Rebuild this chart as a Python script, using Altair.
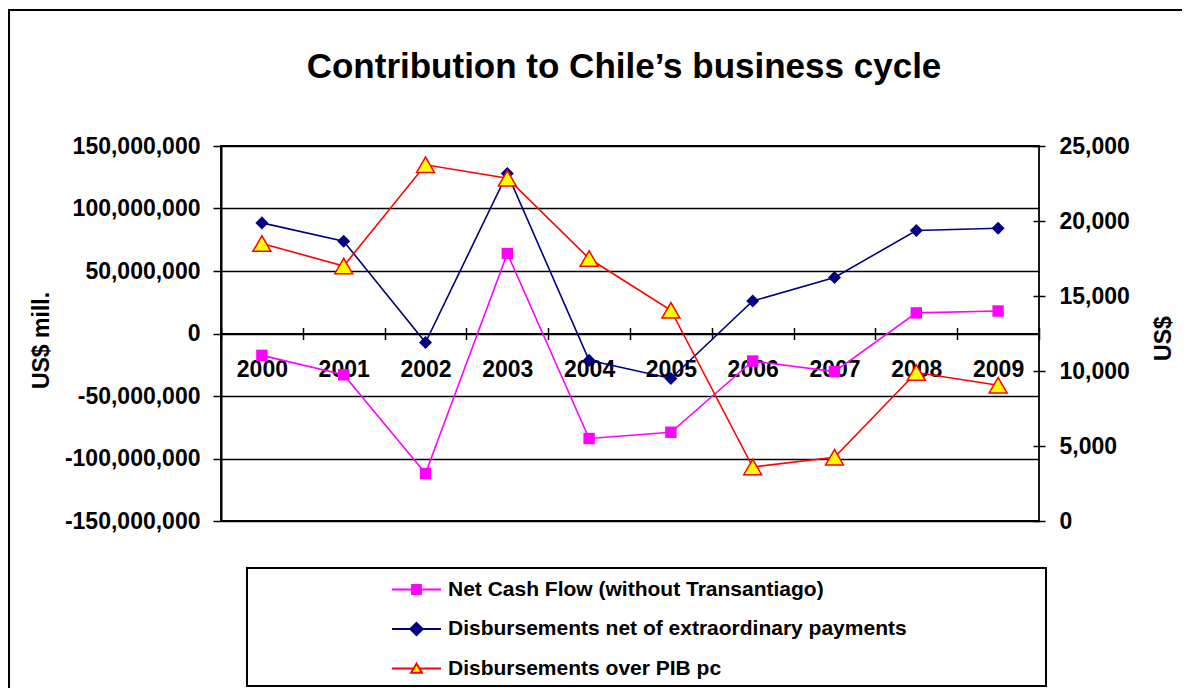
import altair as alt
import pandas as pd

FONT = "Liberation Sans, Arial, Helvetica, sans-serif"

years = ["2000", "2001", "2002", "2003", "2004", "2005", "2006", "2007", "2008", "2009"]
net_cash_flow = [-17.5e6, -33.0e6, -112.0e6, 64.0e6, -84.0e6, -79.0e6, -22.0e6, -30.5e6, 16.5e6, 18.0e6]
disb_net = [88.5e6, 73.8e6, -7.2e6, 128.0e6, -21.5e6, -36.0e6, 26.0e6, 44.8e6, 82.4e6, 84.2e6]
disb_pib = [18500, 17000, 23750, 22850, 17500, 14050, 3600, 4250, 9900, 9050]
series_names = [
    "Net Cash Flow (without Transantiago)",
    "Disbursements net of extraordinary payments",
    "Disbursements over PIB pc",
]
series_stroke = ["#FF00FF", "#000080", "#FF0000"]
series_fill = ["#FF00FF", "#000080", "#FFFF00"]
left_ticks = [-150e6, -100e6, -50e6, 0, 50e6, 100e6, 150e6]
right_ticks = [0, 5000, 10000, 15000, 20000, 25000]

df = pd.DataFrame({"year": years, "ncf": net_cash_flow, "dn": disb_net, "dp": disb_pib})

W, H = 818, 375
LBL = 23

xscale = alt.Scale(type="band", paddingInner=0, paddingOuter=0, domain=years)
ax_bottom = alt.Axis(orient="bottom", offset=-H / 2, title=None, labelAngle=0, tickBand="extent",
                     tickSize=6, tickWidth=1.5, tickColor="black", domainColor="black", domainWidth=2,
                     labelFont=FONT, labelFontSize=LBL, labelFontWeight="bold", labelColor="black",
                     labelPadding=19, grid=False)
ax_top = alt.Axis(orient="top", offset=-H / 2, title=None, labels=False, domain=False, tickBand="extent",
                  tickSize=6, tickWidth=1.5, tickColor="black", grid=False)
x_b = alt.X("year:N", scale=xscale, sort=years, axis=ax_bottom)
x_t = alt.X("year:N", scale=xscale, sort=years, axis=ax_top)

scL = alt.Scale(domain=[-150e6, 150e6], nice=False, zero=False)
axL = alt.Axis(orient="left", values=left_ticks,
               labelExpr="replace(format(datum.value, ','), '\u2212', '-')",
               title="US$ mill.", titleX=-180, titleY=194, titleAngle=270, titleAlign="center",
               titleBaseline="middle", titleFont=FONT, titleFontSize=LBL, titleFontWeight="bold",
               titleColor="black", labelFont=FONT, labelFontSize=LBL, labelFontWeight="bold",
               labelColor="black", labelPadding=13, labelOverlap=False, labelBound=False, labelFlush=False,
               tickSize=8, tickColor="black", tickWidth=1.5, domainColor="black", domainWidth=2,
               grid=True, gridColor="black", gridWidth=1.3, gridOpacity=1)
scR = alt.Scale(domain=[0, 25000], nice=False, zero=False)
# right axis: ticks cross the border line (the border itself is the view stroke)
axR = alt.Axis(orient="right", values=right_ticks, format=",d", offset=-6, domain=False,
               title="US$", titleX=130, titleY=192, titleAngle=270, titleAlign="center",
               titleBaseline="middle", titleFont=FONT, titleFontSize=LBL, titleFontWeight="bold",
               titleColor="black", labelFont=FONT, labelFontSize=LBL, labelFontWeight="bold",
               labelColor="black", labelPadding=14, labelOverlap=False, labelBound=False, labelFlush=False,
               tickSize=12, tickColor="black", tickWidth=1.5, grid=False)

base = alt.Chart(df)
mag_line = base.mark_line(color=series_stroke[0], strokeWidth=1.6).encode(
    x=x_b, y=alt.Y("ncf:Q", scale=scL, axis=axL))
mag_pts = base.mark_point(shape="square", filled=True, color=series_fill[0], size=130, opacity=1).encode(
    x=x_b, y=alt.Y("ncf:Q", scale=scL, axis=axL))
blue_line = base.mark_line(color=series_stroke[1], strokeWidth=1.6).encode(
    x=x_b, y=alt.Y("dn:Q", scale=scL, axis=axL))
blue_pts = base.mark_point(shape="diamond", filled=True, color=series_fill[1], size=170, opacity=1).encode(
    x=x_b, y=alt.Y("dn:Q", scale=scL, axis=axL))
left = alt.layer(mag_line, mag_pts, blue_line, blue_pts)

red_line = base.mark_line(color=series_stroke[2], strokeWidth=1.6).encode(
    x=x_t, y=alt.Y("dp:Q", scale=scR, axis=axR))
red_pts = base.mark_point(shape="triangle-up", filled=True, fill=series_fill[2], stroke=series_stroke[2],
                          strokeWidth=1.5, size=320, opacity=1).encode(
    x=x_t, y=alt.Y("dp:Q", scale=scR, axis=axR))
right = alt.layer(red_line, red_pts)

# legend symbols: line with marker (custom paths)
sym_paths = [
    "M-1,0H1M-0.18,-0.18H0.18V0.18H-0.18Z",
    "M-1,0H1M0,-0.25L0.25,0L0,0.25L-0.25,0Z",
    "M-1,0H-0.12M0.12,0H1M0,-0.2L0.22,0.17L-0.22,0.17Z",
]
legend_obj = alt.Legend(orient="none", legendX=170, legendY=418, title=None, direction="vertical",
                        labelFont=FONT, labelFontSize=21, labelFontWeight="bold", labelColor="black",
                        symbolSize=2401, symbolStrokeWidth=2, rowPadding=3.5, labelOffset=6, labelLimit=0)
leg_df = pd.DataFrame({"series": series_names})
leg = alt.Chart(leg_df).mark_point(filled=True, opacity=1, size=2401, strokeWidth=2).encode(
    shape=alt.Shape("series:N", scale=alt.Scale(domain=series_names, range=sym_paths), legend=legend_obj),
    fill=alt.Fill("series:N", scale=alt.Scale(domain=series_names, range=series_fill), legend=legend_obj),
    stroke=alt.Stroke("series:N", scale=alt.Scale(domain=series_names, range=series_stroke), legend=legend_obj),
).transform_filter("false")

frame_df = pd.DataFrame({"k": [0]})
outer = alt.Chart(frame_df).mark_rect(filled=False, stroke="black", strokeWidth=2).encode(
    x=alt.value(-212), x2=alt.value(1200), y=alt.value(-136), y2=alt.value(900))
legbox = alt.Chart(frame_df).mark_rect(filled=False, stroke="black", strokeWidth=2).encode(
    x=alt.value(26), x2=alt.value(825), y=alt.value(422), y2=alt.value(540))

chart = alt.layer(outer, legbox, left, right, leg).resolve_scale(
    y="independent").resolve_axis(x="independent", y="independent").properties(
    width=W, height=H,
    autosize=alt.AutoSizeParams(type="none"),
    padding={"left": 213, "top": 138, "right": 143, "bottom": 167},
    title=alt.Title(text="Contribution to Chile\u2019s business cycle", font=FONT, fontSize=35,
                    fontWeight="bold", color="black", anchor="middle", frame="group", offset=-76, dx=-6),
    background="white",
).configure_view(stroke="black", strokeWidth=1.8)

chart.save("out.html", embed_options={"renderer": "svg", "actions": False})
